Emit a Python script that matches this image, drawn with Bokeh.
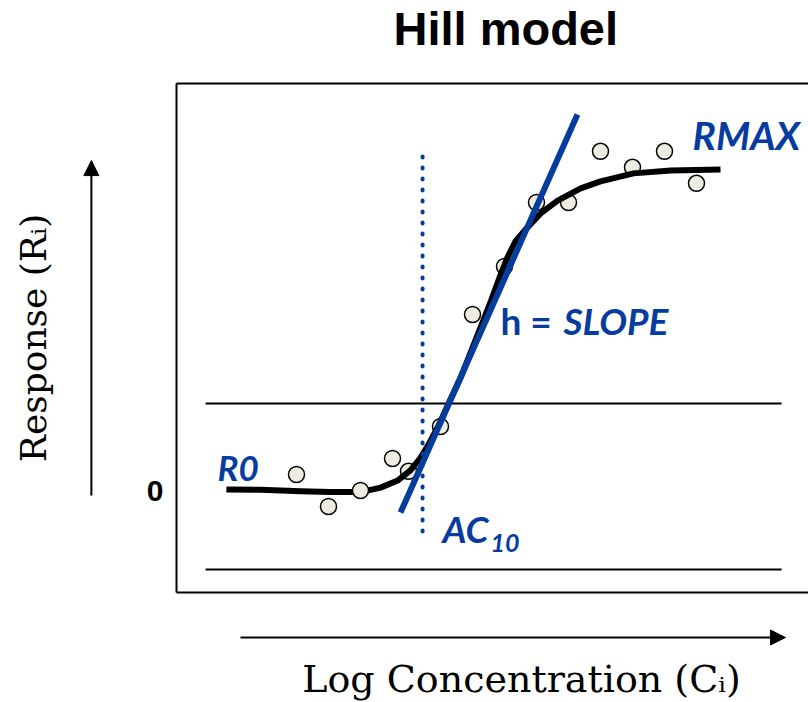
from bokeh.plotting import figure
from bokeh.models import (Range1d, LinearAxis, FixedTicker, Arrow, NormalHead, Label,
                          ColumnDataSource, CDSView, IndexFilter)
from bokeh.embed import file_html
from bokeh.resources import INLINE

# ---------------- data ----------------
# observed responses R_i at log concentrations C_i
conc_points = [1, 2, 3, 4, 4.5, 5.5, 6.5, 7.5, 8.5, 9.5, 10.5, 11.5, 12.5, 13.5]
resp_points = [5, -5, 0, 10, 6, 20, 55, 70, 90, 90, 106, 101, 106, 96]

# fitted Hill curve
fit_conc = [-1.19, -0.13, 1.13, 2.06, 3.0, 3.63, 4.16, 4.56, 4.88, 5.13, 5.44, 5.81,
            6.13, 6.44, 6.75, 7.06, 7.38, 7.59, 7.84, 8.16, 8.63, 9.16, 9.88, 10.5,
            11.53, 12.69, 14.25]
fit_resp = [0.3, 0.2, -0.2, -0.5, -0.5, 0.9, 3.1, 6.3, 10.3, 14.4, 20.3, 28.4,
            35.3, 43.1, 50.9, 58.8, 67.5, 72.8, 77.8, 81.6, 86.6, 90.6, 94.4, 96.6,
            99.1, 100.0, 100.3]

# tangent (slope h) line
tangent_conc = [4.25, 9.78]
tangent_resp = [-6.9, 117.5]

# AC10 marker
ac10_conc = [4.94, 4.94]
ac10_resp = [-12.8, 105.6]

# threshold band lines
band_conc = [-1.84, 16.16]
band_upper = [27.2, 27.2]
band_lower = [-24.7, -24.7]

y_ticks = [0]

# extents of the plotting box (data units)
BOX_X = (-2.75, 17.0)
BOX_Y = (-31.875, 127.19)

BLUE = "#063C9E"
POINT_FILL = "#EEECE1"

# ---------------- figure ----------------
p = figure(width=808, height=702, output_backend="svg", toolbar_location=None,
           x_range=Range1d(-8.25, 17.0), y_range=Range1d(-66.25, 153.125),
           x_axis_location=None, y_axis_location=None,
           min_border_left=0, min_border_right=0, min_border_top=0, min_border_bottom=0,
           outline_line_color=None, background_fill_color="white", border_fill_color="white")
p.xgrid.visible = False
p.ygrid.visible = False

no_ticks = dict(major_tick_line_color=None, minor_tick_line_color=None,
                major_tick_out=0, major_tick_in=0)

# left edge of the box with the "0" tick and the response label
yaxis = LinearAxis(ticker=FixedTicker(ticks=y_ticks, minor_ticks=[]),
                   fixed_location=BOX_X[0], bounds=BOX_Y,
                   axis_label="Response (R\u1d62)",
                   axis_line_width=2, axis_line_color="black",
                   major_label_standoff=13,
                   major_label_text_font="Liberation Sans",
                   major_label_text_font_size="30px",
                   major_label_text_font_style="bold",
                   major_label_text_color="black",
                   axis_label_text_font="DejaVu Serif",
                   axis_label_text_font_size="36px",
                   axis_label_text_font_style="normal",
                   axis_label_text_color="black",
                   axis_label_standoff=90, **no_ticks)
p.add_layout(yaxis, "left")

# bottom and top edges of the box
bottom_edge = LinearAxis(ticker=FixedTicker(ticks=[], minor_ticks=[]),
                         fixed_location=BOX_Y[0], bounds=BOX_X,
                         axis_line_width=2, axis_line_color="black",
                         major_label_standoff=0, major_label_text_font_size="0px", **no_ticks)
p.add_layout(bottom_edge, "below")
top_edge = LinearAxis(ticker=FixedTicker(ticks=[], minor_ticks=[]),
                      fixed_location=BOX_Y[1], bounds=BOX_X,
                      axis_line_width=2, axis_line_color="black",
                      major_label_standoff=0, major_label_text_font_size="0px", **no_ticks)
p.add_layout(top_edge, "above")

# x-axis label under the concentration arrow
xaxis = LinearAxis(ticker=FixedTicker(ticks=[], minor_ticks=[]),
                   fixed_location=-45.94, bounds=(-0.75, 16.81),
                   axis_line_color=None, major_label_standoff=0,
                   major_label_text_font_size="0px",
                   axis_label="Log Concentration (C\u1d62)",
                   axis_label_text_font="DejaVu Serif",
                   axis_label_text_font_size="38px",
                   axis_label_text_font_style="normal",
                   axis_label_text_color="black",
                   axis_label_standoff=19, **no_ticks)
p.add_layout(xaxis, "below")

# title
p.add_layout(Label(x=4.03, y=144.5, text="Hill model", text_font="Liberation Sans",
                   text_font_size="47px", text_font_style="bold", text_color="black",
                   text_align="left", text_baseline="middle"))

# threshold lines
p.line(band_conc, band_upper, line_color="black", line_width=2)
p.line(band_conc, band_lower, line_color="black", line_width=2)

# observed points (most under the curve, one on top)
src = ColumnDataSource(dict(x=conc_points, y=resp_points))
under_idx = [i for i in range(len(conc_points)) if i != 2]
over_idx = [2]
p.scatter("x", "y", source=src, view=CDSView(filter=IndexFilter(under_idx)),
          size=16, fill_color=POINT_FILL, line_color="black", line_width=1.5)

# fitted curve
p.line(fit_conc, fit_resp, line_color="black", line_width=6, line_join="round")

p.scatter("x", "y", source=src, view=CDSView(filter=IndexFilter(over_idx)),
          size=16, fill_color=POINT_FILL, line_color="black", line_width=1.5)

# AC10 dotted marker
p.line(ac10_conc, ac10_resp, line_color=BLUE, line_width=4, line_dash="1 10",
       line_cap="round")

# tangent
p.line(tangent_conc, tangent_resp, line_color=BLUE, line_width=6)

# annotations
lbl = dict(text_color=BLUE, text_font="Lato", text_font_style="bold italic",
           text_baseline="middle")
p.add_layout(Label(x=-1.47, y=7.5, text="R0", text_font_size="35px", **lbl))
p.add_layout(Label(x=13.375, y=111.1, text="RMAX", text_font_size="39px", **lbl))
p.add_layout(Label(x=7.375, y=53.1, text="h =", text_font_size="37px",
                   text_color=BLUE, text_font="Lato", text_font_style="bold",
                   text_baseline="middle"))
p.add_layout(Label(x=9.34, y=53.1, text="SLOPE", text_font_size="37px", **lbl))
p.add_layout(Label(x=5.5625, y=-12.0, text="AC", text_font_size="37px", **lbl))
p.add_layout(Label(x=7.06, y=-16.25, text="10", text_font_size="25px", **lbl))

# direction arrows
p.add_layout(Arrow(x_start=-5.41, y_start=-1.56, x_end=-5.41, y_end=103.1,
                   line_width=2, line_color="black",
                   end=NormalHead(size=15, fill_color="black", line_color="black")))
p.add_layout(Arrow(x_start=-0.75, y_start=-45.94, x_end=16.28, y_end=-45.94,
                   line_width=2, line_color="black",
                   end=NormalHead(size=15, fill_color="black", line_color="black")))

open("out.html", "w").write(file_html(p, INLINE))
